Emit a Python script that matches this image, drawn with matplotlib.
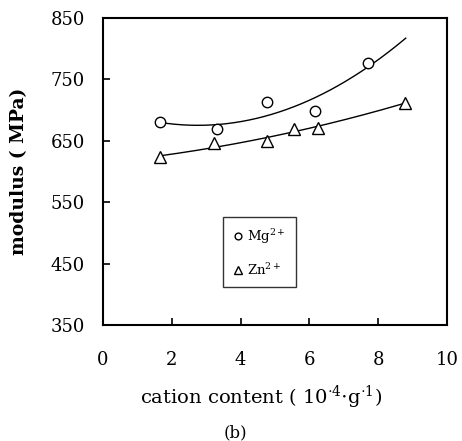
import numpy as np
import matplotlib
matplotlib.use("Agg")
import matplotlib.pyplot as plt

mg_x = [1.66, 3.31, 4.77, 6.16, 7.71]
mg_y = [680, 669, 713, 699, 777]
zn_x = [1.66, 3.24, 4.78, 5.54, 6.26, 8.77]
zn_y = [623, 646, 649, 669, 671, 712]

xticks = [0, 2, 4, 6, 8, 10]
yticks = [350, 450, 550, 650, 750, 850]

plt.rcParams['font.family'] = ['DejaVu Serif']
plt.rcParams['mathtext.fontset'] = 'dejavuserif'

W, H = 462, 441
fig = plt.figure(figsize=(W/100, H/100), dpi=100)
ax = fig.add_axes([103/W, (H-325)/H, 344/W, 307/H])

# fitted trend curves
xf = np.linspace(1.66, 8.8, 200)
pm = np.polyfit(mg_x, mg_y, 2)
pz = np.polyfit(zn_x, zn_y, 2)
ax.plot(xf, np.polyval(pm, xf), color='black', lw=1.0)
ax.plot(xf, np.polyval(pz, xf), color='black', lw=1.0)

ax.plot(mg_x, mg_y, 'o', ms=7.5, mfc='white', mec='black', mew=1.0, label='Mg$^{2+}$')
ax.plot(zn_x, zn_y, '^', ms=8, mfc='white', mec='black', mew=1.0, label='Zn$^{2+}$')

ax.set_xlim(0, 10)
ax.set_ylim(350, 850)
ax.set_xticks(xticks)
ax.set_yticks(yticks)
ax.tick_params(direction='in', length=5, width=1.2, labelsize=13)
ax.tick_params(axis='x', pad=19)
ax.tick_params(axis='y', pad=13)
for s in ax.spines.values():
    s.set_linewidth(1.5)

ax.set_ylabel('modulus ( MPa)', fontsize=13.5, fontweight='bold')
ax.yaxis.set_label_coords((28-103)/344, 0.5)
fig.text(261/W, 1 - 397/H, 'cation content ( 10$^{\\cdot 4}$$\\cdot$g$^{\\cdot 1}$)', fontsize=14,
         ha='center', va='center')
fig.text(235/W, 1 - 433/H, '(b)', fontsize=12, ha='center', va='center')

leg = ax.legend(loc='upper left', bbox_to_anchor=((223-103)/344, (325-217)/307),
                fontsize=9.5, frameon=True, fancybox=False, edgecolor='black',
                markerscale=0.65, handlelength=0.7, handletextpad=0.4,
                borderpad=0.75, labelspacing=1.2, borderaxespad=0)
leg.get_frame().set_linewidth(1.0)

fig.savefig('out.png', dpi=100)
